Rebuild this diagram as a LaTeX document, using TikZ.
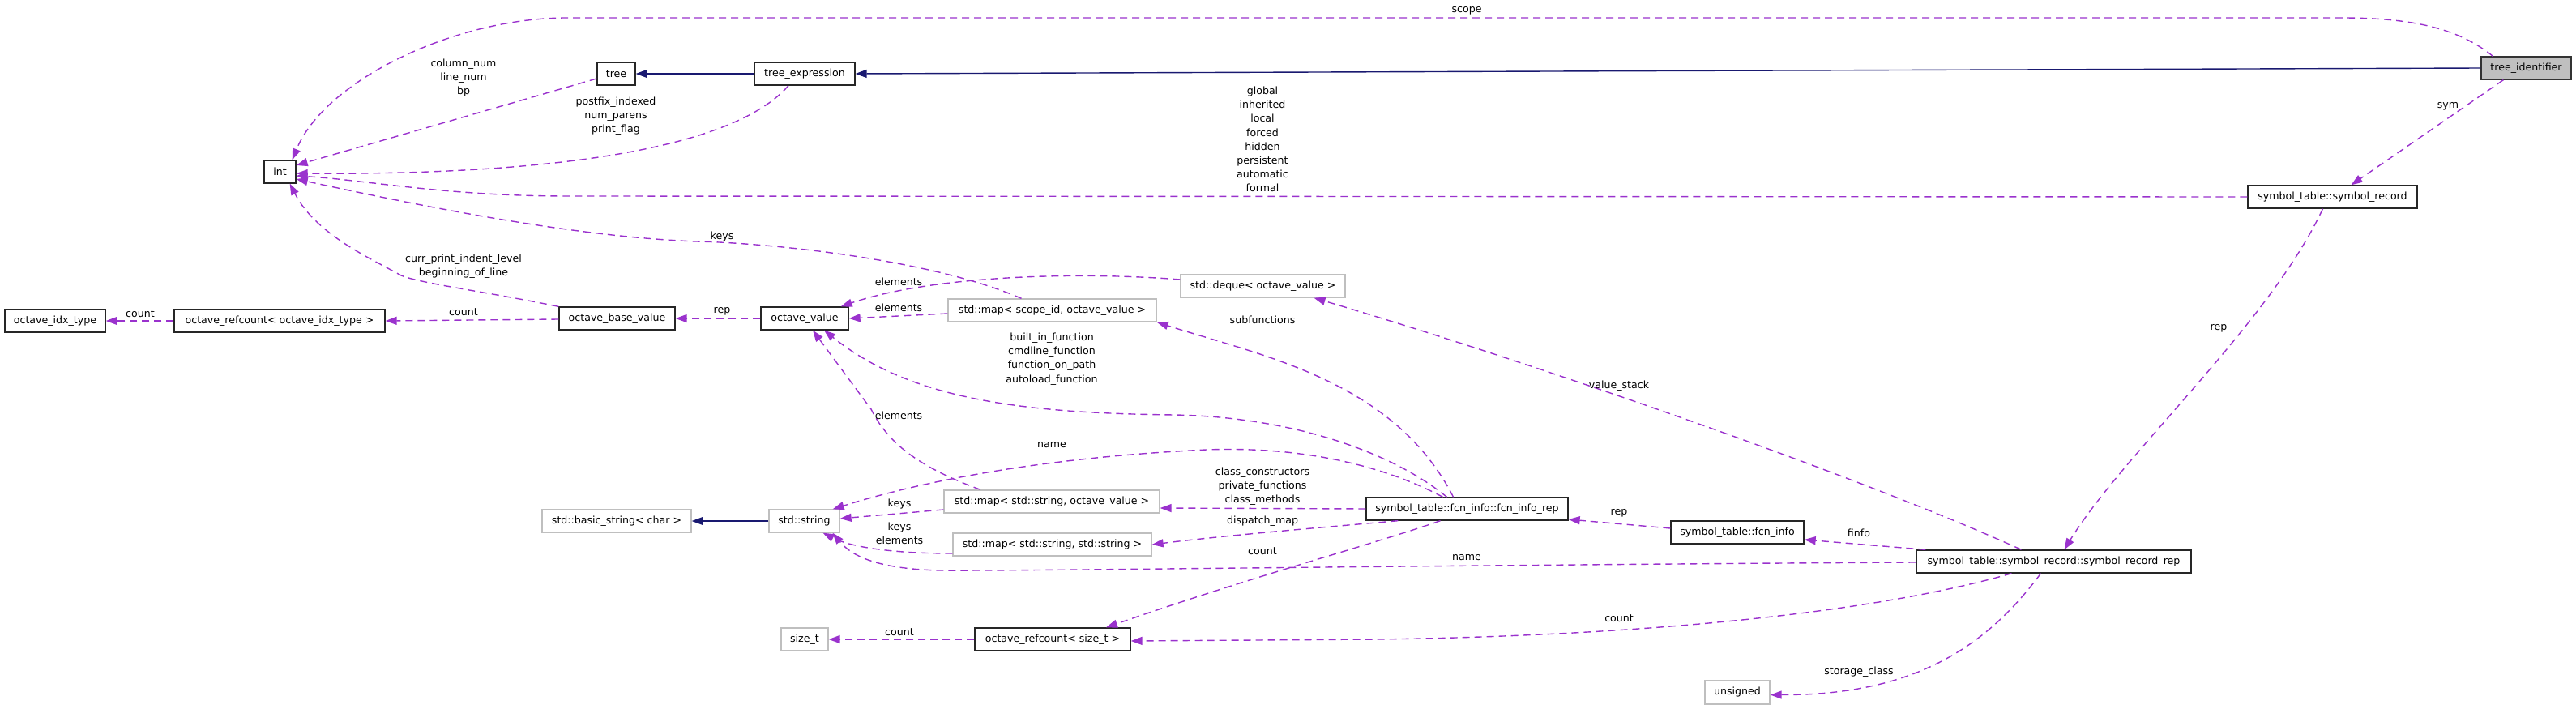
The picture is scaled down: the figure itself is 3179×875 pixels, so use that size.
\documentclass[tikz,border=0pt]{standalone}
\usepackage{fontspec}
\setmainfont{DejaVu Sans}
\usetikzlibrary{arrows.meta,calc}
\definecolor{usecol}{HTML}{9A32CD}
\definecolor{inhcol}{HTML}{191970}
\definecolor{gborder}{HTML}{BFBFBF}
\newcommand\dfont{\fontsize{12.6}{17.2}\selectfont}
\tikzset{
  box/.style={draw=black!85, line width=1.3pt, fill=white, inner sep=0pt, font=\dfont},
  gbox/.style={draw=gborder, line width=1.3pt, fill=white, inner sep=0pt, font=\dfont},
  rootbox/.style={draw=black!80, line width=1.3pt, fill=gborder, inner sep=0pt, font=\dfont},
  lab/.style={inner sep=0pt, align=center, font=\dfont},
  use/.style={draw=usecol, line width=1.4pt, dash pattern=on 9pt off 6pt, -{Triangle[length=14pt,width=10pt]}},
  inh/.style={draw=inhcol, line width=1.4pt, -{Triangle[length=14pt,width=10pt]}},
}
\begin{document}
\begin{tikzpicture}[x=1pt,y=-1pt]
\useasboundingbox (0,0) rectangle (3179,875);
% nodes
\node[rootbox, minimum width=111pt, minimum height=28pt] (ti) at (3117.5,84) {tree\_identifier};
\node[box, minimum width=124pt, minimum height=28pt] (te) at (993,91) {tree\_expression};
\node[box, minimum width=47pt, minimum height=28pt] (tree) at (760.5,91) {tree};
\node[box, minimum width=39pt, minimum height=28pt] (int) at (345.5,212) {int};
\node[box, minimum width=209pt, minimum height=28pt] (sr) at (2878.5,243) {symbol\_table::symbol\_record};
\node[box, minimum width=124pt, minimum height=28pt] (oit) at (68,396) {octave\_idx\_type};
\node[box, minimum width=260pt, minimum height=28pt] (orc) at (345,396) {octave\_refcount< octave\_idx\_type >};
\node[box, minimum width=143pt, minimum height=28pt] (obv) at (761.5,393) {octave\_base\_value};
\node[box, minimum width=108pt, minimum height=28pt] (ov) at (993,393) {octave\_value};
\node[gbox, minimum width=203pt, minimum height=28pt] (deque) at (1558.5,353) {std::deque< octave\_value >};
\node[gbox, minimum width=257pt, minimum height=28pt] (mapscope) at (1298.5,383) {std::map< scope\_id, octave\_value >};
\node[gbox, minimum width=184pt, minimum height=28pt] (bstr) at (761,643) {std::basic\_string< char >};
\node[gbox, minimum width=87pt, minimum height=28pt] (str) at (992.5,643) {std::string};
\node[gbox, minimum width=266pt, minimum height=28pt] (mapsov) at (1298,619) {std::map< std::string, octave\_value >};
\node[gbox, minimum width=245pt, minimum height=28pt] (mapss) at (1298.5,672) {std::map< std::string, std::string >};
\node[gbox, minimum width=58pt, minimum height=28pt] (sizet) at (993,789) {size\_t};
\node[box, minimum width=192pt, minimum height=28pt] (orcs) at (1299,789) {octave\_refcount< size\_t >};
\node[box, minimum width=249pt, minimum height=28pt] (fir) at (1810.5,628) {symbol\_table::fcn\_info::fcn\_info\_rep};
\node[box, minimum width=164pt, minimum height=28pt] (fi) at (2144,657) {symbol\_table::fcn\_info};
\node[box, minimum width=339pt, minimum height=28pt] (srr) at (2534.5,693) {symbol\_table::symbol\_record::symbol\_record\_rep};
\node[gbox, minimum width=80pt, minimum height=29pt] (uns) at (2144,854.5) {unsigned};

% inheritance
\draw[inh] (ti.west) -- (te.east);
\draw[inh] (te.west) -- (tree.east);
\draw[inh] (str.west) -- (bstr.east);

% usage edges
\draw[use] ($(ti.north west)+(15,0)$) .. controls (3040,40) and (2990,22) .. (2890,22) -- (700,22) .. controls (560,22) and (400,100) .. ($(int.north east)+(-5,0)$);
\draw[use] ($(tree.west)+(0,6)$) -- ($(int.east)+(0,-8)$);
\draw[use] ($(te.south)+(-20,0)$) .. controls (900,190) and (650,216) .. ($(int.east)+(0,2)$);
\draw[use] (sr.west) -- (700,242) .. controls (550,242) and (450,222) .. ($(int.east)+(0,5)$);
\draw[use] (obv.north west) .. controls (600,360) and (520,350) .. (495,340) .. controls (460,320) and (390,290) .. ($(int.south east)+(-8,0)$);
\draw[use] ($(mapscope.north)+(-38,0)$) .. controls (1150,320) and (950,300) .. (860,298) .. controls (700,292) and (500,250) .. ($(int.east)+(0,9)$);
\draw[use] ($(deque.west)+(0,-8)$) .. controls (1330,335) and (1150,340) .. ($(ov.north east)+(-10,0)$);
\draw[use] ($(mapscope.west)+(0,4)$) -- (ov.east);
\draw[use] (ov.west) -- (obv.east);
\draw[use] ($(obv.west)+(0,1)$) -- (orc.east);
\draw[use] (orc.west) -- (oit.east);
\draw[use] ($(mapsov.north)+(-88,0)$) .. controls (1130,575) and (1095,545) .. (1075,505) -- ($(ov.south)+(10,0)$);
\draw[use] ($(fir.north)+(-25,0)$) .. controls (1720,560) and (1600,515) .. (1450,512) .. controls (1250,510) and (1120,490) .. ($(ov.south)+(24,0)$);
\draw[use] ($(fir.north)+(-17,0)$) .. controls (1720,470) and (1560,440) .. (mapscope.south east);
\draw[use] ($(fir.north)+(-30,0)$) .. controls (1680,560) and (1560,550) .. (1470,556) .. controls (1300,565) and (1150,590) .. ($(str.north east)+(-9,0)$);
\draw[use] (fir.west) -- ($(mapsov.east)+(0,8)$);
\draw[use] ($(fir.south west)+(40,0)$) .. controls (1620,652) and (1520,660) .. (mapss.east);
\draw[use] ($(mapsov.west)+(0,10)$) -- ($(str.east)+(0,-3)$);
\draw[use] ($(mapss.west)+(0,11)$) .. controls (1100,683) and (1050,675) .. ($(str.south)+(23,0)$);
\draw[use] ($(srr.west)+(0,1)$) .. controls (1800,697) and (1250,705) .. (1160,704) .. controls (1080,702) and (1050,685) .. ($(str.south)+(35,0)$);
\draw[use] ($(fir.south)+(-33,0)$) .. controls (1700,670) and (1550,710) .. ($(orcs.north)+(66,0)$);
\draw[use] (orcs.west) -- (sizet.east);
\draw[use] ($(srr.south)+(-52,0)$) .. controls (2300,760) and (2000,785) .. (1700,789) -- ($(orcs.east)+(0,2)$);
\draw[use] ($(srr.south)+(-16,0)$) .. controls (2450,800) and (2360,858) .. ($(uns.east)+(0,3)$);
\draw[use] ($(fi.west)+(0,-5)$) -- ($(fir.east)+(0,13)$);
\draw[use] ($(srr.north west)+(12,0)$) -- ($(fi.east)+(0,9)$);
\draw[use] ($(srr.north)+(-40,0)$) .. controls (2300,590) and (1900,450) .. ($(deque.south)+(63,0)$);
\draw[use] ($(sr.south)+(-12,0)$) .. controls (2800,400) and (2620,560) .. ($(srr.north)+(13,0)$);
\draw[use] ($(ti.south west)+(28,0)$) -- ($(sr.north)+(23,0)$);

% labels
\node[lab] (l1) at (1810,13) {scope};
\node[lab] (l2) at (572,96) {column\_num\\line\_num\\bp};
\node[lab] (l3) at (760,143) {postfix\_indexed\\num\_parens\\print\_flag};
\node[lab] (l4) at (1558,172) {global\\inherited\\local\\forced\\hidden\\persistent\\automatic\\formal};
\node[lab] (l5) at (3021,131) {sym};
\node[lab] (l6) at (572,328.5) {curr\_print\_indent\_level\\beginning\_of\_line};
\node[lab] (l7) at (891,292) {keys};
\node[lab] (l8) at (1109,348) {elements};
\node[lab] (l9) at (1109,380) {elements};
\node[lab] (l10) at (891,384) {rep};
\node[lab] (l11) at (572,385) {count};
\node[lab] (l12) at (173,387) {count};
\node[lab] (l13) at (1558,395) {subfunctions};
\node[lab] (l14) at (2738,405) {rep};
\node[lab] (l15) at (1298,443) {built\_in\_function\\cmdline\_function\\function\_on\_path\\autoload\_function};
\node[lab] (l16) at (1998,476) {value\_stack};
\node[lab] (l17) at (1109,513) {elements};
\node[lab] (l18) at (1298,549) {name};
\node[lab] (l19) at (1558,600) {class\_constructors\\private\_functions\\class\_methods};
\node[lab] (l20) at (1110,622) {keys};
\node[lab] (l21) at (1998,633) {rep};
\node[lab] (l22) at (1558,643) {dispatch\_map};
\node[lab] (l23) at (1110,658) {keys\\elements};
\node[lab] (l24) at (2294,658) {finfo};
\node[lab] (l25) at (1558,680) {count};
\node[lab] (l26) at (1810,688) {name};
\node[lab] (l27) at (1998,763) {count};
\node[lab] (l28) at (1110,780) {count};
\node[lab] (l29) at (2294,829) {storage\_class};
\end{tikzpicture}
\end{document}
